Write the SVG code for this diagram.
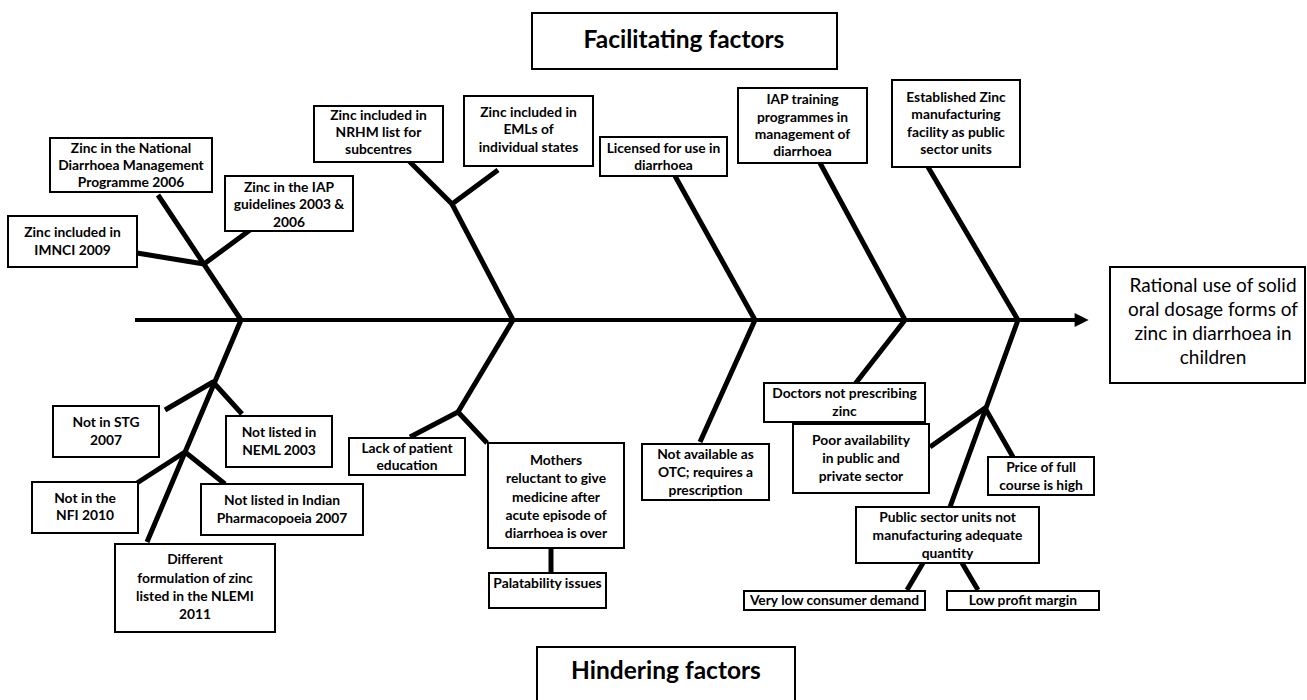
<svg xmlns="http://www.w3.org/2000/svg" width="1307" height="700" viewBox="0 0 1307 700">
<defs>
<style>
.box{fill:#fff;stroke:#000;stroke-width:2}
.t{font-family:Lato,"Open Sans","Liberation Sans",sans-serif;font-weight:bold;font-size:13.8px;text-anchor:middle;fill:#000}
.big{font-family:Lato,"Open Sans","Liberation Sans",sans-serif;font-size:19px;text-anchor:middle;fill:#000}
.title{font-family:Lato,"Open Sans","Liberation Sans",sans-serif;font-weight:bold;font-size:24.5px;text-anchor:middle;fill:#000}
.bone{fill:none;stroke:#000;stroke-width:5;stroke-linejoin:round}
</style>
<marker id="ah" viewBox="0 0 10 10" refX="1" refY="5" markerWidth="4" markerHeight="3.5" orient="auto" markerUnits="strokeWidth">
<path d="M0,0 L10,5 L0,10 z" fill="#000"/>
</marker>
</defs>
<rect width="1307" height="700" fill="#fff"/>
<g id="connectors">
<line x1="135" y1="320" x2="1076" y2="320" stroke="#000" stroke-width="4" marker-end="url(#ah)"/>
<polyline class="bone" points="158,195 241,320 147,542"/>
<polyline class="bone" points="137,253 204,264 250,230"/>
<polyline class="bone" points="165,410 213,382 242,414"/>
<polyline class="bone" points="137,483 185,452 225,484"/>
<polyline class="bone" points="452,204 513,320 458,412"/>
<polyline class="bone" points="407,159 452,204 498,170"/>
<polyline class="bone" points="410,437 458,412 487,443"/>
<line class="bone" x1="551" y1="548" x2="551" y2="573"/>
<polyline class="bone" points="675,176 755,320 700,442"/>
<polyline class="bone" points="820,163 905,320 855,384"/>
<polyline class="bone" points="928,167 1018,320 950,507"/>
<polyline class="bone" points="930,447 985,408 1013,457"/>
<line class="bone" x1="923" y1="563" x2="907" y2="590"/>
<line class="bone" x1="962" y1="563" x2="978" y2="590"/>
</g>
<g id="facilitating"><rect class="box" x="532" y="13" width="305" height="56"/><text class="title" x="684" y="48">Facilitating factors</text></g>
<g id="hindering"><rect class="box" x="537" y="647" width="258" height="60"/><text class="title" x="666" y="679">Hindering factors</text></g>
<g id="outcome"><rect class="box" x="1110" y="267" width="195" height="116"/><text class="big" x="1213"><tspan x="1213" y="292">Rational use of solid</tspan><tspan x="1213" y="316">oral dosage forms of</tspan><tspan x="1213" y="340">zinc in diarrhoea in</tspan><tspan x="1213" y="364">children</tspan></text></g>
<g id="natl"><rect class="box" x="50" y="138" width="162" height="54"/><text class="t"><tspan x="131" y="153">Zinc in the National</tspan><tspan x="131" y="170">Diarrhoea Management</tspan><tspan x="131" y="187">Programme 2006</tspan></text></g>
<g id="imnci"><rect class="box" x="8" y="216" width="129" height="51"/><text class="t"><tspan x="72.5" y="237">Zinc included in</tspan><tspan x="72.5" y="255">IMNCI 2009</tspan></text></g>
<g id="iapg"><rect class="box" x="225" y="176" width="128" height="55"/><text class="t"><tspan x="289" y="192">Zinc in the IAP</tspan><tspan x="289" y="209">guidelines 2003 &amp;</tspan><tspan x="289" y="227">2006</tspan></text></g>
<g id="nrhm"><rect class="box" x="314" y="106" width="129" height="56"/><text class="t"><tspan x="378.5" y="120">Zinc included in</tspan><tspan x="378.5" y="137">NRHM list for</tspan><tspan x="378.5" y="154">subcentres</tspan></text></g>
<g id="emls"><rect class="box" x="464" y="96" width="129" height="70"/><text class="t"><tspan x="528.5" y="117">Zinc included in</tspan><tspan x="528.5" y="134">EMLs of</tspan><tspan x="528.5" y="152">individual states</tspan></text></g>
<g id="lic"><rect class="box" x="600" y="137" width="127" height="39"/><text class="t"><tspan x="663.5" y="153">Licensed for use in</tspan><tspan x="663.5" y="170">diarrhoea</tspan></text></g>
<g id="iapt"><rect class="box" x="738" y="88" width="129" height="75"/><text class="t"><tspan x="802.5" y="104">IAP training</tspan><tspan x="802.5" y="122">programmes in</tspan><tspan x="802.5" y="139">management of</tspan><tspan x="802.5" y="156">diarrhoea</tspan></text></g>
<g id="estab"><rect class="box" x="892" y="80" width="128" height="87"/><text class="t"><tspan x="956" y="102">Established Zinc</tspan><tspan x="956" y="119">manufacturing</tspan><tspan x="956" y="137">facility as public</tspan><tspan x="956" y="154">sector units</tspan></text></g>
<g id="stg"><rect class="box" x="53" y="406" width="106" height="51"/><text class="t"><tspan x="106" y="427">Not in STG</tspan><tspan x="106" y="445">2007</tspan></text></g>
<g id="neml"><rect class="box" x="226" y="416" width="106" height="51"/><text class="t"><tspan x="279" y="437">Not listed in</tspan><tspan x="279" y="455">NEML 2003</tspan></text></g>
<g id="nfi"><rect class="box" x="32" y="482" width="106" height="51"/><text class="t"><tspan x="85" y="503">Not in the</tspan><tspan x="85" y="520">NFI 2010</tspan></text></g>
<g id="ip"><rect class="box" x="201" y="484" width="162" height="51"/><text class="t"><tspan x="282" y="505">Not listed in Indian</tspan><tspan x="282" y="523">Pharmacopoeia 2007</tspan></text></g>
<g id="diff"><rect class="box" x="115" y="544" width="160" height="88"/><text class="t"><tspan x="195" y="564">Different</tspan><tspan x="195" y="583">formulation of zinc</tspan><tspan x="195" y="601">listed in the NLEMI</tspan><tspan x="195" y="619">2011</tspan></text></g>
<g id="lack"><rect class="box" x="349" y="438" width="116" height="37"/><text class="t"><tspan x="407" y="453">Lack of patient</tspan><tspan x="407" y="470">education</tspan></text></g>
<g id="mothers"><rect class="box" x="488" y="443" width="136" height="105"/><text class="t"><tspan x="556" y="465">Mothers</tspan><tspan x="556" y="483">reluctant to give</tspan><tspan x="556" y="502">medicine after</tspan><tspan x="556" y="520">acute episode of</tspan><tspan x="556" y="538">diarrhoea is over</tspan></text></g>
<g id="palat"><rect class="box" x="489" y="573" width="117" height="35"/><text class="t" x="547.5" y="588">Palatability issues</text></g>
<g id="otc"><rect class="box" x="642" y="444" width="127" height="56"/><text class="t"><tspan x="705.5" y="459">Not available as</tspan><tspan x="705.5" y="477">OTC; requires a</tspan><tspan x="705.5" y="495">prescription</tspan></text></g>
<g id="doctors"><rect class="box" x="764" y="383" width="161" height="39"/><text class="t"><tspan x="844.5" y="398">Doctors not prescribing</tspan><tspan x="844.5" y="416">zinc</tspan></text></g>
<g id="poor"><rect class="box" x="793" y="424" width="136" height="69"/><text class="t"><tspan x="861" y="445">Poor availability</tspan><tspan x="861" y="463">in public and</tspan><tspan x="861" y="481">private sector</tspan></text></g>
<g id="price"><rect class="box" x="988" y="457" width="106" height="38"/><text class="t"><tspan x="1041" y="472">Price of full</tspan><tspan x="1041" y="490">course is high</tspan></text></g>
<g id="psu"><rect class="box" x="856" y="507" width="183" height="56"/><text class="t"><tspan x="947.5" y="522">Public sector units not</tspan><tspan x="947.5" y="540">manufacturing adequate</tspan><tspan x="947.5" y="558">quantity</tspan></text></g>
<g id="vlcd"><rect class="box" x="744" y="591" width="181" height="19"/><text class="t" x="834.5" y="605">Very low consumer demand</text></g>
<g id="lpm"><rect class="box" x="947" y="591" width="152" height="19"/><text class="t" x="1023" y="605">Low profit margin</text></g>
</svg>
